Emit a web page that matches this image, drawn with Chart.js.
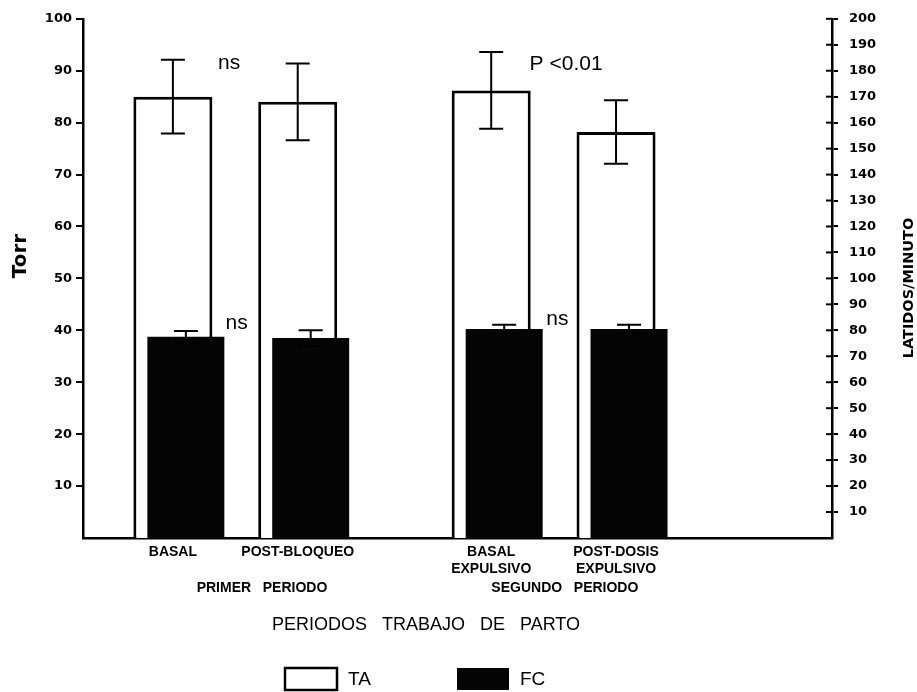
<!DOCTYPE html>
<html>
<head>
<meta charset="utf-8">
<script src="https://cdn.jsdelivr.net/npm/chart.js@4/dist/chart.umd.min.js"></script>
<style>
  html, body { margin: 0; padding: 0; background: #fff; }
  canvas { display: block; }
</style>
</head>
<body>
<canvas id="chart" width="917" height="692"></canvas>
<script>
// data
const categories = [['BASAL'], ['POST-BLOQUEO'], ['BASAL', 'EXPULSIVO'], ['POST-DOSIS', 'EXPULSIVO']];
const groupX = [1, 2, 3.55, 4.55];          // where each group sits on the x axis
const taValues = [85, 84, 86.2, 78.2];        // Torr (left axis)
const taErrors = [7.1, 7.4, 7.4, 6.1];
const fcValues = [77.5, 77, 80.5, 80.5];      // latidos/minuto (right axis)
const fcErrors = [2.2, 3, 1.6, 1.6];

// text placed on the plot
const notes = [
  { text: 'ns', x: 1.45, y: 91.4 },
  { text: 'P <0.01', x: 4.15, y: 91.2 },
  { text: 'ns', x: 1.51, y: 41.3 },
  { text: 'ns', x: 4.08, y: 42.2 }
];
const periodLabels = [
  { text: 'PRIMER   PERIODO', x: 1.714 },
  { text: 'SEGUNDO   PERIODO', x: 4.14 }
];

const X_MIN = 0.28, X_MAX = 6.28, FC_SHIFT = 0.104;

// error bars on top of each bar
const errorBarPlugin = {
  id: 'errorBars',
  afterDatasetsDraw(chart) {
    const ctx = chart.ctx;
    chart.data.datasets.forEach((ds, di) => {
      if (!ds.errorBars) return;
      const meta = chart.getDatasetMeta(di);
      const yScale = chart.scales[meta.yAxisID];
      ctx.save();
      ctx.strokeStyle = '#000';
      ctx.lineWidth = 2;
      meta.data.forEach((bar, i) => {
        const v = ds.data[i].y;
        const e = ds.errorBars[i];
        const top = yScale.getPixelForValue(v + e);
        const bot = yScale.getPixelForValue(v - e);
        ctx.beginPath();
        ctx.moveTo(bar.x, top); ctx.lineTo(bar.x, bot);
        ctx.moveTo(bar.x - 12, top); ctx.lineTo(bar.x + 12, top);
        ctx.moveTo(bar.x - 12, bot); ctx.lineTo(bar.x + 12, bot);
        ctx.stroke();
      });
      ctx.restore();
    });
  }
};

// titles, notes, legend, inner tick stubs of the right axis
const textPlugin = {
  id: 'texts',
  afterDraw(chart) {
    const ctx = chart.ctx;
    const xs = chart.scales.x, ys = chart.scales.y, y2 = chart.scales.y2;
    const area = chart.chartArea;
    ctx.save();
    ctx.fillStyle = '#000';
    ctx.strokeStyle = '#000';

    // right axis ticks cross the line
    ctx.lineWidth = 2;
    y2.ticks.forEach(t => {
      const py = y2.getPixelForValue(t.value);
      ctx.beginPath();
      ctx.moveTo(area.right - 6, py);
      ctx.lineTo(area.right, py);
      ctx.stroke();
    });

    // axis titles
    ctx.textAlign = 'center';
    ctx.textBaseline = 'middle';
    ctx.font = 'bold 20px "DejaVu Sans"';
    ctx.save();
    ctx.translate(21, 256);
    ctx.rotate(-Math.PI / 2);
    ctx.fillText('Torr', 0, 0);
    ctx.restore();

    ctx.font = 'bold 14.5px "DejaVu Sans"';
    ctx.save();
    ctx.translate(909, 288);
    ctx.rotate(-Math.PI / 2);
    ctx.fillText('LATIDOS/MINUTO', 0, 0);
    ctx.restore();

    ctx.font = '18px "Liberation Sans"';
    ctx.fillText('PERIODOS   TRABAJO   DE   PARTO', 426, 625);

    // period labels under the ticks
    ctx.font = 'bold 14px "Liberation Sans"';
    periodLabels.forEach(p => ctx.fillText(p.text, xs.getPixelForValue(p.x), area.bottom + 50));

    // notes
    ctx.font = '21px "Liberation Sans"';
    notes.forEach(n => ctx.fillText(n.text, xs.getPixelForValue(n.x), ys.getPixelForValue(n.y)));

    // legend
    const items = chart.data.datasets;
    const legendX = [285, 457];
    ctx.textAlign = 'left';
    ctx.font = '19px "Liberation Sans"';
    items.forEach((ds, i) => {
      const lx = legendX[i];
      ctx.fillStyle = ds.backgroundColor;
      ctx.fillRect(lx, 668, 52, 22);
      if (ds.borderWidth) {
        ctx.lineWidth = 2.5;
        ctx.strokeRect(lx, 668, 52, 22);
      }
      ctx.fillStyle = '#000';
      ctx.fillText(ds.label, lx + 63, 680);
    });
    ctx.restore();
  }
};

const tickFont = { family: 'DejaVu Sans', weight: 'bold', size: 13 };

new Chart(document.getElementById('chart'), {
  type: 'bar',
  data: {
    datasets: [
      {
        label: 'TA',
        data: groupX.map((x, i) => ({ x: x, y: taValues[i] })),
        errorBars: taErrors,
        xAxisID: 'x',
        yAxisID: 'y',
        backgroundColor: '#ffffff',
        borderColor: '#000000',
        borderWidth: 3,
        borderSkipped: 'bottom',
        grouped: false,
        barPercentage: 1,
        maxBarThickness: 79,
        order: 1
      },
      {
        label: 'FC',
        data: groupX.map((x, i) => ({ x: x, y: fcValues[i] })),
        errorBars: fcErrors,
        xAxisID: 'xFC',
        yAxisID: 'y2',
        backgroundColor: '#050505',
        borderWidth: 0,
        grouped: false,
        barPercentage: 1,
        maxBarThickness: 77,
        order: 0
      }
    ]
  },
  options: {
    responsive: false,
    animation: false,
    devicePixelRatio: 1,
    layout: { padding: { top: 17, left: 0, right: 0, bottom: 0 } },
    plugins: {
      legend: { display: false },
      tooltip: { enabled: false }
    },
    scales: {
      x: {
        type: 'linear',
        position: 'bottom',
        min: X_MIN,
        max: X_MAX,
        offset: false,
        afterBuildTicks: (scale) => { scale.ticks = groupX.map(v => ({ value: v })); },
        afterFit: (scale) => { scale.height = 154; },
        grid: { display: false, drawTicks: false },
        border: { display: true, color: '#000', width: 2.5 },
        ticks: {
          autoSkip: false,
          maxRotation: 0,
          padding: 6,
          color: '#000',
          font: { family: 'Liberation Sans', weight: 'bold', size: 14, lineHeight: 1.2 },
          callback: (value, index) => categories[index]
        }
      },
      xFC: {
        type: 'linear',
        display: false,
        min: X_MIN - FC_SHIFT,
        max: X_MAX - FC_SHIFT,
        offset: false
      },
      y: {
        position: 'left',
        min: 0,
        max: 100,
        afterBuildTicks: (scale) => { scale.ticks = scale.ticks.filter(t => t.value > 0); },
        afterFit: (scale) => { scale.width = 83; },
        grid: { display: true, drawOnChartArea: false, drawTicks: true, tickLength: 7, color: '#000', lineWidth: 2 },
        border: { display: true, color: '#000', width: 2.5 },
        ticks: { stepSize: 10, padding: 4, color: '#000', font: tickFont }
      },
      y2: {
        position: 'right',
        min: 0,
        max: 200,
        afterBuildTicks: (scale) => { scale.ticks = scale.ticks.filter(t => t.value > 0); },
        afterFit: (scale) => { scale.width = 85; },
        grid: { display: true, drawOnChartArea: false, drawTicks: true, tickLength: 6, color: '#000', lineWidth: 2 },
        border: { display: true, color: '#000', width: 2.5 },
        ticks: { stepSize: 10, padding: 11, color: '#000', font: tickFont }
      }
    }
  },
  plugins: [errorBarPlugin, textPlugin]
});
</script>
</body>
</html>
